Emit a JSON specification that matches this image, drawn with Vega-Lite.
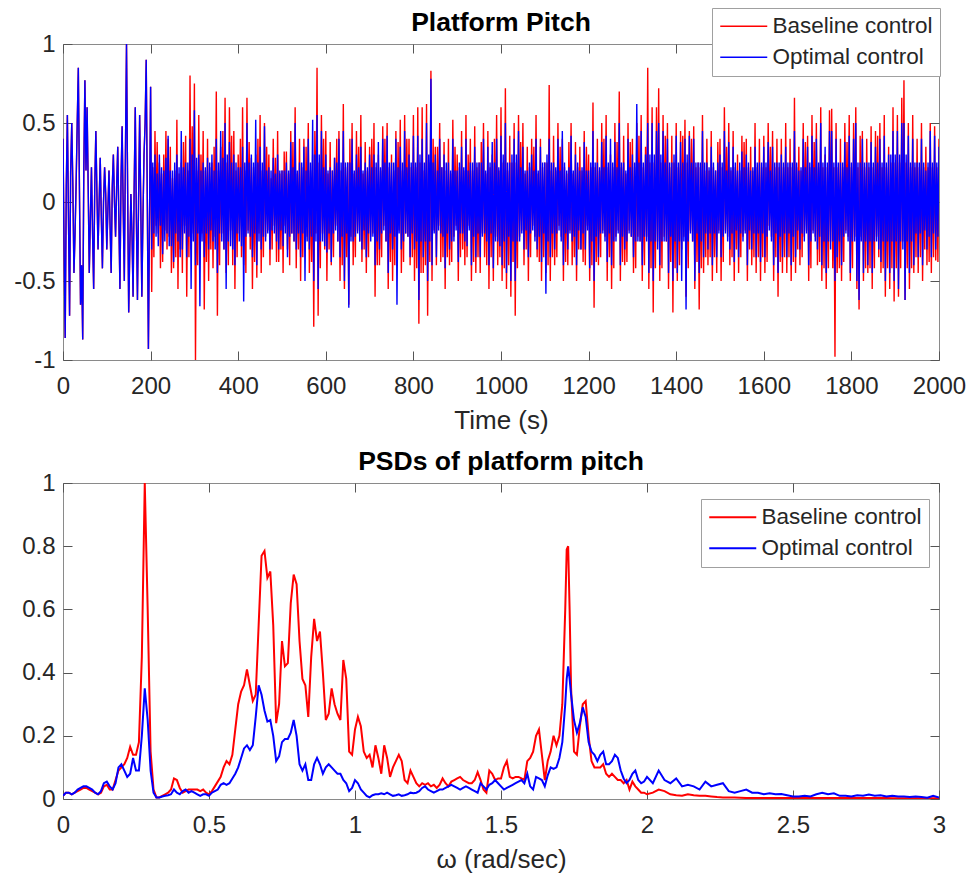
{
"$schema": "https://vega.github.io/schema/vega-lite/v6.json",
"background": "white",
"padding": {"left": 13, "top": 7, "right": 0, "bottom": 0},
"spacing": 14,
"config": {
  "font": "Liberation Sans",
  "view": {"stroke": "#8a8a8a", "strokeWidth": 1},
  "axis": {"grid": false, "domain": false, "tickColor": "#555555", "tickSize": -9, "tickWidth": 1, "labelFontSize": 24, "labelColor": "#262626", "labelPadding": 23, "titleFontSize": 26, "titleFontWeight": "normal", "titleColor": "#262626", "titlePadding": 9, "labelFlush": false, "labelOverlap": false, "labelExpr": "'' + datum.value"},
  "title": {"fontSize": 26.5, "fontWeight": "bold", "color": "#000000", "font": "Liberation Sans", "frame": "group"},
  "legend": {"orient": "none", "direction": "vertical", "title": null, "symbolType": "M-1,0H3.7", "symbolSize": 400, "labelOffset": 31, "rowPadding": 8, "padding": 7, "strokeColor": "#a0a0a0", "fillColor": "white", "labelFontSize": 22.5, "labelColor": "#262626", "labelLimit": 400}
},
"resolve": {"legend": {"color": "independent"}, "scale": {"color": "independent"}},
"vconcat": [
{
  "width": 876, "height": 316,
  "title": {"text": "Platform Pitch", "offset": -29},
  "data": {"values": [
{"t":0,"b":0.4,"o":0.4},{"t":2.5,"b":-0.3,"o":-0.3},{"t":5,"b":-0.86,"o":-0.86},{"t":7.5,"b":0.1,"o":0.1},{"t":10,"b":0.55,"o":0.55},{"t":12.5,"b":-0.1,"o":-0.1},{"t":15,"b":-0.72,"o":-0.72},{"t":17.5,"b":0.2,"o":0.2},{"t":20,"b":0.5,"o":0.5},{"t":22.5,"b":0.1,"o":0.1},
{"t":25,"b":-0.45,"o":-0.45},{"t":27.5,"b":-0.2,"o":-0.2},{"t":30,"b":0.12,"o":0.12},{"t":32.5,"b":0.5,"o":0.5},{"t":35,"b":0.85,"o":0.85},{"t":37.5,"b":0.1,"o":0.1},{"t":40,"b":-0.65,"o":-0.65},{"t":42.5,"b":-0.4,"o":-0.4},{"t":45,"b":-0.87,"o":-0.87},{"t":47.5,"b":0.2,"o":0.2},
{"t":50,"b":0.77,"o":0.77},{"t":52.5,"b":0.2,"o":0.2},{"t":55,"b":0.6,"o":0.6},{"t":57.5,"b":0.1,"o":0.1},{"t":60,"b":-0.45,"o":-0.45},{"t":62.5,"b":-0.1,"o":-0.1},{"t":65,"b":0.22,"o":0.22},{"t":67.5,"b":-0.2,"o":-0.2},{"t":70,"b":-0.55,"o":-0.55},{"t":72.5,"b":0.1,"o":0.1},
{"t":75,"b":0.45,"o":0.45},{"t":77.5,"b":0.05,"o":0.05},{"t":80,"b":-0.3,"o":-0.3},{"t":82.5,"b":0.0,"o":0.0},{"t":85,"b":0.28,"o":0.28},{"t":87.5,"b":-0.1,"o":-0.1},{"t":90,"b":-0.42,"o":-0.42},{"t":92.5,"b":0.0,"o":0.0},{"t":95,"b":0.22,"o":0.22},{"t":97.5,"b":0.05,"o":0.05},
{"t":100,"b":-0.3,"o":-0.3},{"t":102.5,"b":-0.05,"o":-0.05},{"t":105,"b":0.2,"o":0.2},{"t":107.5,"b":-0.15,"o":-0.15},{"t":110,"b":-0.45,"o":-0.45},{"t":112.5,"b":0.1,"o":0.1},{"t":115,"b":0.3,"o":0.3},{"t":117.5,"b":0.0,"o":0.0},{"t":120,"b":-0.22,"o":-0.22},{"t":122.5,"b":0.1,"o":0.1},
{"t":125,"b":0.35,"o":0.35},{"t":127.5,"b":-0.1,"o":-0.1},{"t":130,"b":-0.55,"o":-0.55},{"t":132.5,"b":0.15,"o":0.15},{"t":135,"b":0.48,"o":0.48},{"t":137.5,"b":-0.05,"o":-0.05},{"t":140,"b":-0.5,"o":-0.5},{"t":142.5,"b":0.3,"o":0.3},{"t":145,"b":1.0,"o":1.0},{"t":147.5,"b":0.1,"o":0.1},
{"t":150,"b":-0.7,"o":-0.7},{"t":152.5,"b":-0.3,"o":-0.3},{"t":155,"b":0.05,"o":0.05},{"t":157.5,"b":-0.2,"o":-0.2},{"t":160,"b":-0.6,"o":-0.6},{"t":162.5,"b":0.1,"o":0.1},{"t":165,"b":0.6,"o":0.6},{"t":167.5,"b":-0.1,"o":-0.1},{"t":170,"b":-0.62,"o":-0.62},{"t":172.5,"b":0.0,"o":0.0},
{"t":175,"b":0.55,"o":0.55},{"t":177.5,"b":0.0,"o":0.0},{"t":180,"b":-0.6,"o":-0.6},{"t":182.5,"b":-0.1,"o":-0.1},{"t":185,"b":0.3,"o":0.3},{"t":187.5,"b":0.5,"o":0.5},{"t":190,"b":0.9,"o":0.9},{"t":192.5,"b":0.0,"o":0.0},{"t":195,"b":-0.93,"o":-0.93},{"t":197.5,"b":-0.1,"o":-0.1},
{"t":200,"b":0.73,"o":0.73},
{"t":202.5,"b":-0.57,"o":-0.3},{"t":205,"b":0.22,"o":0.25},{"t":207.5,"b":-0.35,"o":-0.2},{"t":210,"b":0.45,"o":0.3},{"t":212.5,"b":-0.15,"o":-0.22},{"t":215,"b":0.38,"o":0.18},{"t":217.5,"b":-0.2,"o":-0.28},{"t":220,"b":0.25,"o":0.3},{"t":222.5,"b":-0.42,"o":-0.15},{"t":225,"b":0.18,"o":0.22},
{"t":227.5,"b":-0.38,"o":-0.33},{"t":230,"b":0.3,"o":0.2},{"t":232.5,"b":-0.18,"o":-0.25},{"t":235,"b":0.45,"o":0.28},{"t":237.5,"b":-0.3,"o":-0.2},{"t":240,"b":0.4,"o":0.42},{"t":242.5,"b":-0.22,"o":-0.28},{"t":245,"b":0.35,"o":0.2},{"t":247.5,"b":-0.45,"o":-0.28},{"t":250,"b":0.15,"o":0.2},
{"t":252.5,"b":-0.42,"o":-0.38},{"t":255,"b":0.2,"o":0.25},{"t":257.5,"b":-0.35,"o":-0.2},{"t":260,"b":0.52,"o":0.3},{"t":262.5,"b":-0.55,"o":-0.25},{"t":265,"b":0.18,"o":0.22},{"t":267.5,"b":-0.3,"o":-0.35},{"t":270,"b":0.25,"o":0.45},{"t":272.5,"b":-0.45,"o":-0.3},{"t":275,"b":0.38,"o":0.22},
{"t":277.5,"b":-0.15,"o":-0.2},{"t":280,"b":0.42,"o":0.25},{"t":282.5,"b":-0.6,"o":-0.35},{"t":285,"b":0.2,"o":0.25},{"t":287.5,"b":-0.35,"o":-0.22},{"t":290,"b":0.8,"o":0.4},{"t":292.5,"b":-0.3,"o":-0.55},{"t":295,"b":0.48,"o":0.3},{"t":297.5,"b":-0.2,"o":-0.25},{"t":300,"b":0.75,"o":0.58},
{"t":302.5,"b":-1.0,"o":-0.4},{"t":305,"b":0.2,"o":0.28},{"t":307.5,"b":-0.4,"o":-0.2},{"t":310,"b":0.55,"o":0.3},{"t":312.5,"b":-0.35,"o":-0.66},{"t":315,"b":0.3,"o":0.2},{"t":317.5,"b":-0.2,"o":-0.25},{"t":320,"b":0.45,"o":0.25},{"t":322.5,"b":-0.68,"o":-0.35},{"t":325,"b":0.2,"o":0.22},
{"t":327.5,"b":-0.38,"o":-0.2},{"t":330,"b":0.4,"o":0.28},{"t":332.5,"b":-0.5,"o":-0.3},{"t":335,"b":0.22,"o":0.25},{"t":337.5,"b":-0.3,"o":-0.18},{"t":340,"b":0.25,"o":0.3},{"t":342.5,"b":-0.42,"o":-0.25},{"t":345,"b":0.35,"o":0.2},{"t":347.5,"b":-0.22,"o":-0.3},{"t":350,"b":0.7,"o":0.4},
{"t":352.5,"b":-0.72,"o":-0.45},{"t":355,"b":0.2,"o":0.25},{"t":357.5,"b":-0.4,"o":-0.2},{"t":360,"b":0.35,"o":0.45},{"t":362.5,"b":-0.2,"o":-0.25},{"t":365,"b":0.45,"o":0.28},{"t":367.5,"b":-0.3,"o":-0.3},{"t":370,"b":0.66,"o":0.5},{"t":372.5,"b":-0.45,"o":-0.55},{"t":375,"b":0.25,"o":0.3},
{"t":377.5,"b":-0.4,"o":-0.25},{"t":380,"b":0.6,"o":0.38},{"t":382.5,"b":-0.18,"o":-0.28},{"t":385,"b":0.42,"o":0.25},{"t":387.5,"b":-0.4,"o":-0.3},{"t":390,"b":0.45,"o":0.3},{"t":392.5,"b":-0.55,"o":-0.4},{"t":395,"b":0.2,"o":0.25},{"t":397.5,"b":-0.35,"o":-0.2},{"t":400,"b":0.3,"o":0.22},
{"t":402.5,"b":-0.2,"o":-0.25},{"t":405,"b":0.4,"o":0.22},{"t":407.5,"b":-0.35,"o":-0.28},{"t":410,"b":0.6,"o":0.35},{"t":412.5,"b":-0.4,"o":-0.63},{"t":415,"b":0.2,"o":0.25},{"t":417.5,"b":-0.45,"o":-0.22},{"t":420,"b":0.66,"o":0.5},{"t":422.5,"b":-0.18,"o":-0.2},{"t":425,"b":0.38,"o":0.25},
{"t":427.5,"b":-0.3,"o":-0.22},{"t":430,"b":0.28,"o":0.3},{"t":432.5,"b":-0.55,"o":-0.35},{"t":435,"b":0.22,"o":0.25},{"t":437.5,"b":-0.38,"o":-0.2},{"t":440,"b":0.3,"o":0.52},{"t":442.5,"b":-0.48,"o":-0.4},{"t":445,"b":0.4,"o":0.25},{"t":447.5,"b":-0.2,"o":-0.25},{"t":450,"b":0.55,"o":0.35},
{"t":452.5,"b":-0.45,"o":-0.3},{"t":455,"b":0.2,"o":0.25},{"t":457.5,"b":-0.35,"o":-0.22},{"t":460,"b":0.5,"o":0.48},{"t":462.5,"b":-0.22,"o":-0.25},{"t":465,"b":0.35,"o":0.2},{"t":467.5,"b":-0.18,"o":-0.2},{"t":470,"b":0.3,"o":0.22},{"t":472.5,"b":-0.4,"o":-0.3},{"t":475,"b":0.15,"o":0.2},
{"t":477.5,"b":-0.3,"o":-0.18},{"t":480,"b":0.4,"o":0.28},{"t":482.5,"b":-0.15,"o":-0.2},{"t":485,"b":0.28,"o":0.18},{"t":487.5,"b":-0.38,"o":-0.25},{"t":490,"b":0.45,"o":0.3},{"t":492.5,"b":-0.38,"o":-0.3},{"t":495,"b":0.18,"o":0.2},{"t":497.5,"b":-0.3,"o":-0.18},{"t":500,"b":0.2,"o":0.2},
{"t":502.5,"b":-0.45,"o":-0.28},{"t":505,"b":0.32,"o":0.2},{"t":507.5,"b":-0.15,"o":-0.2},{"t":510,"b":0.32,"o":0.25},{"t":512.5,"b":-0.3,"o":-0.35},{"t":515,"b":0.18,"o":0.2},{"t":517.5,"b":-0.4,"o":-0.22},{"t":520,"b":0.45,"o":0.38},{"t":522.5,"b":-0.2,"o":-0.2},{"t":525,"b":0.38,"o":0.22},
{"t":527.5,"b":-0.25,"o":-0.25},{"t":530,"b":0.6,"o":0.5},{"t":532.5,"b":-0.42,"o":-0.3},{"t":535,"b":0.18,"o":0.2},{"t":537.5,"b":-0.3,"o":-0.2},{"t":540,"b":0.4,"o":0.25},{"t":542.5,"b":-0.5,"o":-0.35},{"t":545,"b":0.22,"o":0.25},{"t":547.5,"b":-0.35,"o":-0.2},{"t":550,"b":0.4,"o":0.35},
{"t":552.5,"b":-0.3,"o":-0.5},{"t":555,"b":0.35,"o":0.2},{"t":557.5,"b":-0.22,"o":-0.25},{"t":560,"b":0.5,"o":0.4},{"t":562.5,"b":-0.45,"o":-0.3},{"t":565,"b":0.2,"o":0.25},{"t":567.5,"b":-0.38,"o":-0.22},{"t":570,"b":0.3,"o":0.52},{"t":572.5,"b":-0.79,"o":-0.5},{"t":575,"b":0.45,"o":0.3},
{"t":577.5,"b":-0.2,"o":-0.25},{"t":580,"b":0.85,"o":0.55},{"t":582.5,"b":-0.72,"o":-0.55},{"t":585,"b":0.25,"o":0.3},{"t":587.5,"b":-0.42,"o":-0.25},{"t":590,"b":0.55,"o":0.45},{"t":592.5,"b":-0.2,"o":-0.25},{"t":595,"b":0.4,"o":0.22},{"t":597.5,"b":-0.3,"o":-0.28},{"t":600,"b":0.45,"o":0.3},
{"t":602.5,"b":-0.5,"o":-0.32},{"t":605,"b":0.18,"o":0.2},{"t":607.5,"b":-0.3,"o":-0.2},{"t":610,"b":0.38,"o":0.22},{"t":612.5,"b":-0.4,"o":-0.38},{"t":615,"b":0.2,"o":0.2},{"t":617.5,"b":-0.35,"o":-0.2},{"t":620,"b":0.28,"o":0.28},{"t":622.5,"b":-0.15,"o":-0.18},{"t":625,"b":0.4,"o":0.25},
{"t":627.5,"b":-0.25,"o":-0.25},{"t":630,"b":0.45,"o":0.4},{"t":632.5,"b":-0.5,"o":-0.35},{"t":635,"b":0.2,"o":0.25},{"t":637.5,"b":-0.4,"o":-0.22},{"t":640,"b":0.62,"o":0.45},{"t":642.5,"b":-0.55,"o":-0.5},{"t":645,"b":0.22,"o":0.25},{"t":647.5,"b":-0.35,"o":-0.2},{"t":650,"b":0.25,"o":0.25},
{"t":652.5,"b":-0.65,"o":-0.67},{"t":655,"b":0.4,"o":0.25},{"t":657.5,"b":-0.22,"o":-0.25},{"t":660,"b":0.5,"o":0.4},{"t":662.5,"b":-0.4,"o":-0.25},{"t":665,"b":0.18,"o":0.2},{"t":667.5,"b":-0.35,"o":-0.22},{"t":670,"b":0.45,"o":0.3},{"t":672.5,"b":-0.18,"o":-0.2},{"t":675,"b":0.35,"o":0.22},
{"t":677.5,"b":-0.25,"o":-0.25},{"t":680,"b":0.55,"o":0.35},{"t":682.5,"b":-0.38,"o":-0.3},{"t":685,"b":0.18,"o":0.2},{"t":687.5,"b":-0.3,"o":-0.18},{"t":690,"b":0.38,"o":0.25},{"t":692.5,"b":-0.45,"o":-0.35},{"t":695,"b":0.2,"o":0.22},{"t":697.5,"b":-0.35,"o":-0.2},{"t":700,"b":0.35,"o":0.3},
{"t":702.5,"b":-0.22,"o":-0.25},{"t":705,"b":0.4,"o":0.22},{"t":707.5,"b":-0.2,"o":-0.22},{"t":710,"b":0.5,"o":0.3},{"t":712.5,"b":-0.6,"o":-0.4},{"t":715,"b":0.22,"o":0.25},{"t":717.5,"b":-0.4,"o":-0.25},{"t":720,"b":0.3,"o":0.38},{"t":722.5,"b":-0.4,"o":-0.3},{"t":725,"b":0.2,"o":0.22},
{"t":727.5,"b":-0.35,"o":-0.2},{"t":730,"b":0.48,"o":0.4},{"t":732.5,"b":-0.15,"o":-0.18},{"t":735,"b":0.4,"o":0.25},{"t":737.5,"b":-0.25,"o":-0.25},{"t":740,"b":0.5,"o":0.42},{"t":742.5,"b":-0.55,"o":-0.45},{"t":745,"b":0.22,"o":0.25},{"t":747.5,"b":-0.38,"o":-0.2},{"t":750,"b":0.3,"o":0.25},
{"t":752.5,"b":-0.5,"o":-0.3},{"t":755,"b":0.2,"o":0.25},{"t":757.5,"b":-0.4,"o":-0.22},{"t":760,"b":0.45,"o":0.4},{"t":762.5,"b":-0.3,"o":-0.65},{"t":765,"b":0.38,"o":0.22},{"t":767.5,"b":-0.18,"o":-0.2},{"t":770,"b":0.52,"o":0.35},{"t":772.5,"b":-0.45,"o":-0.3},{"t":775,"b":0.2,"o":0.25},
{"t":777.5,"b":-0.38,"o":-0.25},{"t":780,"b":0.55,"o":0.45},{"t":782.5,"b":-0.2,"o":-0.2},{"t":785,"b":0.4,"o":0.22},{"t":787.5,"b":-0.22,"o":-0.22},{"t":790,"b":0.4,"o":0.3},{"t":792.5,"b":-0.4,"o":-0.35},{"t":795,"b":0.22,"o":0.25},{"t":797.5,"b":-0.35,"o":-0.2},{"t":800,"b":0.55,"o":0.42},
{"t":802.5,"b":-0.5,"o":-0.3},{"t":805,"b":0.22,"o":0.25},{"t":807.5,"b":-0.42,"o":-0.25},{"t":810,"b":0.6,"o":0.42},{"t":812.5,"b":-0.77,"o":-0.62},{"t":815,"b":0.25,"o":0.3},{"t":817.5,"b":-0.45,"o":-0.25},{"t":820,"b":0.6,"o":0.4},{"t":822.5,"b":-0.45,"o":-0.35},{"t":825,"b":0.2,"o":0.25},
{"t":827.5,"b":-0.4,"o":-0.25},{"t":830,"b":0.62,"o":0.5},{"t":832.5,"b":-0.72,"o":-0.5},{"t":835,"b":0.25,"o":0.3},{"t":837.5,"b":-0.38,"o":-0.25},{"t":840,"b":0.83,"o":0.78},{"t":842.5,"b":-0.5,"o":-0.4},{"t":845,"b":0.4,"o":0.25},{"t":847.5,"b":-0.18,"o":-0.2},{"t":850,"b":0.35,"o":0.3},
{"t":852.5,"b":-0.4,"o":-0.35},{"t":855,"b":0.35,"o":0.2},{"t":857.5,"b":-0.15,"o":-0.18},{"t":860,"b":0.5,"o":0.4},{"t":862.5,"b":-0.38,"o":-0.2},{"t":865,"b":0.22,"o":0.22},{"t":867.5,"b":-0.35,"o":-0.22},{"t":870,"b":0.38,"o":0.3},{"t":872.5,"b":-0.55,"o":-0.42},{"t":875,"b":0.2,"o":0.25},
{"t":877.5,"b":-0.35,"o":-0.2},{"t":880,"b":0.4,"o":0.25},{"t":882.5,"b":-0.4,"o":-0.3},{"t":885,"b":0.18,"o":0.2},{"t":887.5,"b":-0.38,"o":-0.25},{"t":890,"b":0.52,"o":0.4},{"t":892.5,"b":-0.22,"o":-0.25},{"t":895,"b":0.35,"o":0.2},{"t":897.5,"b":-0.15,"o":-0.18},{"t":900,"b":0.3,"o":0.2},
{"t":902.5,"b":-0.5,"o":-0.38},{"t":905,"b":0.22,"o":0.25},{"t":907.5,"b":-0.35,"o":-0.2},{"t":910,"b":0.45,"o":0.35},{"t":912.5,"b":-0.3,"o":-0.2},{"t":915,"b":0.2,"o":0.22},{"t":917.5,"b":-0.4,"o":-0.25},{"t":920,"b":0.55,"o":0.4},{"t":922.5,"b":-0.35,"o":-0.28},{"t":925,"b":0.3,"o":0.2},
{"t":927.5,"b":-0.15,"o":-0.18},{"t":930,"b":0.4,"o":0.25},{"t":932.5,"b":-0.5,"o":-0.4},{"t":935,"b":0.2,"o":0.25},{"t":937.5,"b":-0.38,"o":-0.22},{"t":940,"b":0.48,"o":0.35},{"t":942.5,"b":-0.45,"o":-0.35},{"t":945,"b":0.22,"o":0.25},{"t":947.5,"b":-0.35,"o":-0.2},{"t":950,"b":0.25,"o":0.25},
{"t":952.5,"b":-0.45,"o":-0.35},{"t":955,"b":0.38,"o":0.25},{"t":957.5,"b":-0.2,"o":-0.22},{"t":960,"b":0.5,"o":0.4},{"t":962.5,"b":-0.35,"o":-0.2},{"t":965,"b":0.18,"o":0.2},{"t":967.5,"b":-0.4,"o":-0.25},{"t":970,"b":0.45,"o":0.35},{"t":972.5,"b":-0.55,"o":-0.4},{"t":975,"b":0.22,"o":0.25},
{"t":977.5,"b":-0.35,"o":-0.2},{"t":980,"b":0.3,"o":0.38},{"t":982.5,"b":-0.5,"o":-0.42},{"t":985,"b":0.4,"o":0.25},{"t":987.5,"b":-0.22,"o":-0.25},{"t":990,"b":0.55,"o":0.4},{"t":992.5,"b":-0.4,"o":-0.25},{"t":995,"b":0.2,"o":0.22},{"t":997.5,"b":-0.35,"o":-0.28},{"t":1000,"b":0.6,"o":0.42},
{"t":1002.5,"b":-0.5,"o":-0.4},{"t":1005,"b":0.25,"o":0.3},{"t":1007.5,"b":-0.42,"o":-0.25},{"t":1010,"b":0.72,"o":0.5},{"t":1012.5,"b":-0.55,"o":-0.45},{"t":1015,"b":0.2,"o":0.25},{"t":1017.5,"b":-0.4,"o":-0.22},{"t":1020,"b":0.42,"o":0.25},{"t":1022.5,"b":-0.6,"o":-0.5},{"t":1025,"b":0.25,"o":0.3},
{"t":1027.5,"b":-0.38,"o":-0.25},{"t":1030,"b":0.5,"o":0.4},{"t":1032.5,"b":-0.72,"o":-0.5},{"t":1035,"b":0.25,"o":0.3},{"t":1037.5,"b":-0.42,"o":-0.25},{"t":1040,"b":0.55,"o":0.45},{"t":1042.5,"b":-0.22,"o":-0.25},{"t":1045,"b":0.38,"o":0.22},{"t":1047.5,"b":-0.18,"o":-0.2},{"t":1050,"b":0.5,"o":0.35},
{"t":1052.5,"b":-0.4,"o":-0.3},{"t":1055,"b":0.18,"o":0.2},{"t":1057.5,"b":-0.3,"o":-0.18},{"t":1060,"b":0.35,"o":0.2},{"t":1062.5,"b":-0.5,"o":-0.35},{"t":1065,"b":0.22,"o":0.25},{"t":1067.5,"b":-0.35,"o":-0.2},{"t":1070,"b":0.4,"o":0.3},{"t":1072.5,"b":-0.15,"o":-0.18},{"t":1075,"b":0.35,"o":0.2},
{"t":1077.5,"b":-0.22,"o":-0.25},{"t":1080,"b":0.55,"o":0.4},{"t":1082.5,"b":-0.35,"o":-0.3},{"t":1085,"b":0.18,"o":0.2},{"t":1087.5,"b":-0.38,"o":-0.22},{"t":1090,"b":0.4,"o":0.35},{"t":1092.5,"b":-0.5,"o":-0.38},{"t":1095,"b":0.22,"o":0.25},{"t":1097.5,"b":-0.35,"o":-0.2},{"t":1100,"b":0.25,"o":0.25},
{"t":1102.5,"b":-0.45,"o":-0.58},{"t":1105,"b":0.25,"o":0.3},{"t":1107.5,"b":-0.4,"o":-0.25},{"t":1110,"b":0.74,"o":0.4},{"t":1112.5,"b":-0.5,"o":-0.35},{"t":1115,"b":0.2,"o":0.25},{"t":1117.5,"b":-0.35,"o":-0.2},{"t":1120,"b":0.42,"o":0.25},{"t":1122.5,"b":-0.4,"o":-0.3},{"t":1125,"b":0.2,"o":0.22},
{"t":1127.5,"b":-0.35,"o":-0.2},{"t":1130,"b":0.5,"o":0.4},{"t":1132.5,"b":-0.15,"o":-0.18},{"t":1135,"b":0.35,"o":0.2},{"t":1137.5,"b":-0.22,"o":-0.25},{"t":1140,"b":0.4,"o":0.45},{"t":1142.5,"b":-0.5,"o":-0.4},{"t":1145,"b":0.22,"o":0.25},{"t":1147.5,"b":-0.38,"o":-0.2},{"t":1150,"b":0.18,"o":0.2},
{"t":1152.5,"b":-0.4,"o":-0.3},{"t":1155,"b":0.38,"o":0.22},{"t":1157.5,"b":-0.18,"o":-0.2},{"t":1160,"b":0.5,"o":0.42},{"t":1162.5,"b":-0.4,"o":-0.25},{"t":1165,"b":0.18,"o":0.2},{"t":1167.5,"b":-0.35,"o":-0.22},{"t":1170,"b":0.38,"o":0.3},{"t":1172.5,"b":-0.5,"o":-0.4},{"t":1175,"b":0.22,"o":0.25},
{"t":1177.5,"b":-0.3,"o":-0.18},{"t":1180,"b":0.35,"o":0.2},{"t":1182.5,"b":-0.3,"o":-0.3},{"t":1185,"b":0.2,"o":0.22},{"t":1187.5,"b":-0.38,"o":-0.2},{"t":1190,"b":0.45,"o":0.38},{"t":1192.5,"b":-0.4,"o":-0.3},{"t":1195,"b":0.35,"o":0.2},{"t":1197.5,"b":-0.15,"o":-0.18},{"t":1200,"b":0.3,"o":0.2},
{"t":1202.5,"b":-0.5,"o":-0.42},{"t":1205,"b":0.22,"o":0.25},{"t":1207.5,"b":-0.4,"o":-0.25},{"t":1210,"b":0.63,"o":0.45},{"t":1212.5,"b":-0.67,"o":-0.5},{"t":1215,"b":0.22,"o":0.25},{"t":1217.5,"b":-0.38,"o":-0.22},{"t":1220,"b":0.4,"o":0.25},{"t":1222.5,"b":-0.4,"o":-0.35},{"t":1225,"b":0.2,"o":0.22},
{"t":1227.5,"b":-0.35,"o":-0.2},{"t":1230,"b":0.5,"o":0.38},{"t":1232.5,"b":-0.18,"o":-0.2},{"t":1235,"b":0.4,"o":0.22},{"t":1237.5,"b":-0.22,"o":-0.25},{"t":1240,"b":0.55,"o":0.42},{"t":1242.5,"b":-0.5,"o":-0.38},{"t":1245,"b":0.22,"o":0.25},{"t":1247.5,"b":-0.35,"o":-0.2},{"t":1250,"b":0.3,"o":0.4},
{"t":1252.5,"b":-0.55,"o":-0.4},{"t":1255,"b":0.22,"o":0.25},{"t":1257.5,"b":-0.42,"o":-0.25},{"t":1260,"b":0.5,"o":0.38},{"t":1262.5,"b":-0.22,"o":-0.25},{"t":1265,"b":0.38,"o":0.22},{"t":1267.5,"b":-0.18,"o":-0.2},{"t":1270,"b":0.7,"o":0.5},{"t":1272.5,"b":-0.5,"o":-0.4},{"t":1275,"b":0.22,"o":0.25},
{"t":1277.5,"b":-0.38,"o":-0.22},{"t":1280,"b":0.42,"o":0.25},{"t":1282.5,"b":-0.4,"o":-0.3},{"t":1285,"b":0.18,"o":0.2},{"t":1287.5,"b":-0.38,"o":-0.25},{"t":1290,"b":0.5,"o":0.4},{"t":1292.5,"b":-0.18,"o":-0.2},{"t":1295,"b":0.38,"o":0.22},{"t":1297.5,"b":-0.22,"o":-0.22},{"t":1300,"b":0.4,"o":0.3},
{"t":1302.5,"b":-0.45,"o":-0.35},{"t":1305,"b":0.22,"o":0.25},{"t":1307.5,"b":-0.42,"o":-0.25},{"t":1310,"b":0.5,"o":0.62},{"t":1312.5,"b":-0.22,"o":-0.25},{"t":1315,"b":0.42,"o":0.25},{"t":1317.5,"b":-0.25,"o":-0.25},{"t":1320,"b":0.55,"o":0.45},{"t":1322.5,"b":-0.5,"o":-0.4},{"t":1325,"b":0.22,"o":0.25},
{"t":1327.5,"b":-0.4,"o":-0.22},{"t":1330,"b":0.35,"o":0.3},{"t":1332.5,"b":-0.22,"o":-0.25},{"t":1335,"b":0.85,"o":0.5},{"t":1337.5,"b":-0.55,"o":-0.45},{"t":1340,"b":0.25,"o":0.3},{"t":1342.5,"b":-0.42,"o":-0.25},{"t":1345,"b":0.6,"o":0.5},{"t":1347.5,"b":-0.7,"o":-0.5},{"t":1350,"b":0.25,"o":0.3},
{"t":1352.5,"b":-0.42,"o":-0.25},{"t":1355,"b":0.6,"o":0.45},{"t":1357.5,"b":-0.25,"o":-0.3},{"t":1360,"b":0.72,"o":0.5},{"t":1362.5,"b":-0.5,"o":-0.4},{"t":1365,"b":0.25,"o":0.3},{"t":1367.5,"b":-0.42,"o":-0.25},{"t":1370,"b":0.55,"o":0.45},{"t":1372.5,"b":-0.22,"o":-0.25},{"t":1375,"b":0.42,"o":0.25},
{"t":1377.5,"b":-0.25,"o":-0.25},{"t":1380,"b":0.5,"o":0.4},{"t":1382.5,"b":-0.55,"o":-0.45},{"t":1385,"b":0.22,"o":0.25},{"t":1387.5,"b":-0.38,"o":-0.22},{"t":1390,"b":0.42,"o":0.25},{"t":1392.5,"b":-0.7,"o":-0.5},{"t":1395,"b":0.25,"o":0.3},{"t":1397.5,"b":-0.42,"o":-0.25},{"t":1400,"b":0.5,"o":0.42},
{"t":1402.5,"b":-0.5,"o":-0.45},{"t":1405,"b":0.22,"o":0.25},{"t":1407.5,"b":-0.4,"o":-0.25},{"t":1410,"b":0.45,"o":0.38},{"t":1412.5,"b":-0.3,"o":-0.5},{"t":1415,"b":0.42,"o":0.25},{"t":1417.5,"b":-0.22,"o":-0.25},{"t":1420,"b":0.52,"o":0.4},{"t":1422.5,"b":-0.6,"o":-0.68},{"t":1425,"b":0.25,"o":0.3},
{"t":1427.5,"b":-0.42,"o":-0.25},{"t":1430,"b":0.45,"o":0.42},{"t":1432.5,"b":-0.18,"o":-0.2},{"t":1435,"b":0.4,"o":0.25},{"t":1437.5,"b":-0.25,"o":-0.25},{"t":1440,"b":0.48,"o":0.4},{"t":1442.5,"b":-0.55,"o":-0.5},{"t":1445,"b":0.22,"o":0.25},{"t":1447.5,"b":-0.38,"o":-0.2},{"t":1450,"b":0.25,"o":0.25},
{"t":1452.5,"b":-0.68,"o":-0.45},{"t":1455,"b":0.22,"o":0.25},{"t":1457.5,"b":-0.42,"o":-0.25},{"t":1460,"b":0.55,"o":0.45},{"t":1462.5,"b":-0.45,"o":-0.35},{"t":1465,"b":0.2,"o":0.25},{"t":1467.5,"b":-0.35,"o":-0.2},{"t":1470,"b":0.4,"o":0.25},{"t":1472.5,"b":-0.4,"o":-0.3},{"t":1475,"b":0.2,"o":0.22},
{"t":1477.5,"b":-0.35,"o":-0.2},{"t":1480,"b":0.45,"o":0.35},{"t":1482.5,"b":-0.5,"o":-0.4},{"t":1485,"b":0.22,"o":0.25},{"t":1487.5,"b":-0.35,"o":-0.2},{"t":1490,"b":0.2,"o":0.2},{"t":1492.5,"b":-0.45,"o":-0.35},{"t":1495,"b":0.38,"o":0.25},{"t":1497.5,"b":-0.18,"o":-0.2},{"t":1500,"b":0.4,"o":0.3},
{"t":1502.5,"b":-0.5,"o":-0.35},{"t":1505,"b":0.22,"o":0.25},{"t":1507.5,"b":-0.38,"o":-0.22},{"t":1510,"b":0.6,"o":0.45},{"t":1512.5,"b":-0.18,"o":-0.2},{"t":1515,"b":0.35,"o":0.2},{"t":1517.5,"b":-0.22,"o":-0.25},{"t":1520,"b":0.5,"o":0.38},{"t":1522.5,"b":-0.4,"o":-0.3},{"t":1525,"b":0.2,"o":0.22},
{"t":1527.5,"b":-0.35,"o":-0.2},{"t":1530,"b":0.45,"o":0.35},{"t":1532.5,"b":-0.5,"o":-0.38},{"t":1535,"b":0.22,"o":0.25},{"t":1537.5,"b":-0.3,"o":-0.18},{"t":1540,"b":0.3,"o":0.2},{"t":1542.5,"b":-0.45,"o":-0.35},{"t":1545,"b":0.2,"o":0.25},{"t":1547.5,"b":-0.35,"o":-0.2},{"t":1550,"b":0.42,"o":0.32},
{"t":1552.5,"b":-0.22,"o":-0.25},{"t":1555,"b":0.38,"o":0.22},{"t":1557.5,"b":-0.18,"o":-0.2},{"t":1560,"b":0.4,"o":0.3},{"t":1562.5,"b":-0.5,"o":-0.4},{"t":1565,"b":0.22,"o":0.25},{"t":1567.5,"b":-0.3,"o":-0.18},{"t":1570,"b":0.35,"o":0.2},{"t":1572.5,"b":-0.4,"o":-0.3},{"t":1575,"b":0.2,"o":0.22},
{"t":1577.5,"b":-0.35,"o":-0.2},{"t":1580,"b":0.5,"o":0.35},{"t":1582.5,"b":-0.45,"o":-0.35},{"t":1585,"b":0.22,"o":0.25},{"t":1587.5,"b":-0.35,"o":-0.2},{"t":1590,"b":0.4,"o":0.25},{"t":1592.5,"b":-0.5,"o":-0.38},{"t":1595,"b":0.22,"o":0.25},{"t":1597.5,"b":-0.35,"o":-0.2},{"t":1600,"b":0.42,"o":0.35},
{"t":1602.5,"b":-0.45,"o":-0.35},{"t":1605,"b":0.22,"o":0.25},{"t":1607.5,"b":-0.38,"o":-0.22},{"t":1610,"b":0.5,"o":0.38},{"t":1612.5,"b":-0.15,"o":-0.18},{"t":1615,"b":0.35,"o":0.2},{"t":1617.5,"b":-0.22,"o":-0.25},{"t":1620,"b":0.45,"o":0.35},{"t":1622.5,"b":-0.5,"o":-0.4},{"t":1625,"b":0.22,"o":0.25},
{"t":1627.5,"b":-0.35,"o":-0.2},{"t":1630,"b":0.4,"o":0.25},{"t":1632.5,"b":-0.6,"o":-0.45},{"t":1635,"b":0.22,"o":0.25},{"t":1637.5,"b":-0.38,"o":-0.22},{"t":1640,"b":0.4,"o":0.3},{"t":1642.5,"b":-0.45,"o":-0.35},{"t":1645,"b":0.22,"o":0.25},{"t":1647.5,"b":-0.35,"o":-0.2},{"t":1650,"b":0.5,"o":0.35},
{"t":1652.5,"b":-0.45,"o":-0.35},{"t":1655,"b":0.22,"o":0.25},{"t":1657.5,"b":-0.35,"o":-0.2},{"t":1660,"b":0.4,"o":0.25},{"t":1662.5,"b":-0.5,"o":-0.4},{"t":1665,"b":0.22,"o":0.25},{"t":1667.5,"b":-0.38,"o":-0.22},{"t":1670,"b":0.66,"o":0.45},{"t":1672.5,"b":-0.45,"o":-0.35},{"t":1675,"b":0.22,"o":0.25},
{"t":1677.5,"b":-0.3,"o":-0.18},{"t":1680,"b":0.35,"o":0.2},{"t":1682.5,"b":-0.4,"o":-0.3},{"t":1685,"b":0.2,"o":0.22},{"t":1687.5,"b":-0.35,"o":-0.2},{"t":1690,"b":0.5,"o":0.4},{"t":1692.5,"b":-0.22,"o":-0.25},{"t":1695,"b":0.38,"o":0.22},{"t":1697.5,"b":-0.18,"o":-0.2},{"t":1700,"b":0.42,"o":0.35},
{"t":1702.5,"b":-0.5,"o":-0.4},{"t":1705,"b":0.22,"o":0.25},{"t":1707.5,"b":-0.42,"o":-0.25},{"t":1710,"b":0.55,"o":0.42},{"t":1712.5,"b":-0.18,"o":-0.2},{"t":1715,"b":0.38,"o":0.22},{"t":1717.5,"b":-0.22,"o":-0.25},{"t":1720,"b":0.5,"o":0.4},{"t":1722.5,"b":-0.4,"o":-0.3},{"t":1725,"b":0.22,"o":0.25},
{"t":1727.5,"b":-0.38,"o":-0.22},{"t":1730,"b":0.6,"o":0.5},{"t":1732.5,"b":-0.5,"o":-0.4},{"t":1735,"b":0.22,"o":0.25},{"t":1737.5,"b":-0.42,"o":-0.25},{"t":1740,"b":0.3,"o":0.35},{"t":1742.5,"b":-0.55,"o":-0.45},{"t":1745,"b":0.22,"o":0.25},{"t":1747.5,"b":-0.42,"o":-0.25},{"t":1750,"b":0.58,"o":0.45},
{"t":1752.5,"b":-0.25,"o":-0.3},{"t":1755,"b":0.59,"o":0.45},{"t":1757.5,"b":-0.42,"o":-0.25},{"t":1760,"b":0.22,"o":0.25},{"t":1762.5,"b":-0.98,"o":-0.5},{"t":1765,"b":0.5,"o":0.4},{"t":1767.5,"b":-0.45,"o":-0.35},{"t":1770,"b":0.22,"o":0.25},{"t":1772.5,"b":-0.42,"o":-0.25},{"t":1775,"b":0.4,"o":0.25},
{"t":1777.5,"b":-0.5,"o":-0.4},{"t":1780,"b":0.22,"o":0.25},{"t":1782.5,"b":-0.38,"o":-0.22},{"t":1785,"b":0.5,"o":0.38},{"t":1787.5,"b":-0.18,"o":-0.2},{"t":1790,"b":0.38,"o":0.22},{"t":1792.5,"b":-0.22,"o":-0.25},{"t":1795,"b":0.55,"o":0.42},{"t":1797.5,"b":-0.5,"o":-0.45},{"t":1800,"b":0.22,"o":0.25},
{"t":1802.5,"b":-0.42,"o":-0.25},{"t":1805,"b":0.5,"o":0.4},{"t":1807.5,"b":-0.22,"o":-0.25},{"t":1810,"b":0.6,"o":0.5},{"t":1812.5,"b":-0.55,"o":-0.5},{"t":1815,"b":0.22,"o":0.25},{"t":1817.5,"b":-0.68,"o":-0.62},{"t":1820,"b":0.42,"o":0.25},{"t":1822.5,"b":-0.22,"o":-0.25},{"t":1825,"b":0.45,"o":0.4},
{"t":1827.5,"b":-0.5,"o":-0.45},{"t":1830,"b":0.22,"o":0.25},{"t":1832.5,"b":-0.42,"o":-0.25},{"t":1835,"b":0.4,"o":0.25},{"t":1837.5,"b":-0.45,"o":-0.4},{"t":1840,"b":0.22,"o":0.25},{"t":1842.5,"b":-0.42,"o":-0.25},{"t":1845,"b":0.48,"o":0.38},{"t":1847.5,"b":-0.55,"o":-0.45},{"t":1850,"b":0.22,"o":0.25},
{"t":1852.5,"b":-0.42,"o":-0.25},{"t":1855,"b":0.45,"o":0.35},{"t":1857.5,"b":-0.22,"o":-0.25},{"t":1860,"b":0.42,"o":0.25},{"t":1862.5,"b":-0.35,"o":-0.3},{"t":1865,"b":0.5,"o":0.4},{"t":1867.5,"b":-0.45,"o":-0.38},{"t":1870,"b":0.22,"o":0.25},{"t":1872.5,"b":-0.42,"o":-0.25},{"t":1875,"b":0.55,"o":0.42},
{"t":1877.5,"b":-0.6,"o":-0.5},{"t":1880,"b":0.22,"o":0.25},{"t":1882.5,"b":-0.42,"o":-0.25},{"t":1885,"b":0.35,"o":0.3},{"t":1887.5,"b":-0.55,"o":-0.45},{"t":1890,"b":0.25,"o":0.3},{"t":1892.5,"b":-0.42,"o":-0.25},{"t":1895,"b":0.6,"o":0.45},{"t":1897.5,"b":-0.63,"o":-0.5},{"t":1900,"b":0.25,"o":0.3},
{"t":1902.5,"b":-0.42,"o":-0.25},{"t":1905,"b":0.55,"o":0.45},{"t":1907.5,"b":-0.6,"o":-0.55},{"t":1910,"b":0.25,"o":0.3},{"t":1912.5,"b":-0.42,"o":-0.25},{"t":1915,"b":0.66,"o":0.5},{"t":1917.5,"b":-0.25,"o":-0.3},{"t":1920,"b":0.77,"o":0.5},{"t":1922.5,"b":-0.62,"o":-0.62},{"t":1925,"b":0.25,"o":0.3},
{"t":1927.5,"b":-0.42,"o":-0.25},{"t":1930,"b":0.5,"o":0.42},{"t":1932.5,"b":-0.55,"o":-0.45},{"t":1935,"b":0.22,"o":0.25},{"t":1937.5,"b":-0.42,"o":-0.25},{"t":1940,"b":0.55,"o":0.4},{"t":1942.5,"b":-0.45,"o":-0.4},{"t":1945,"b":0.22,"o":0.25},{"t":1947.5,"b":-0.35,"o":-0.2},{"t":1950,"b":0.4,"o":0.25},
{"t":1952.5,"b":-0.45,"o":-0.35},{"t":1955,"b":0.22,"o":0.25},{"t":1957.5,"b":-0.35,"o":-0.2},{"t":1960,"b":0.5,"o":0.4},{"t":1962.5,"b":-0.5,"o":-0.4},{"t":1965,"b":0.22,"o":0.25},{"t":1967.5,"b":-0.3,"o":-0.18},{"t":1970,"b":0.35,"o":0.2},{"t":1972.5,"b":-0.4,"o":-0.3},{"t":1975,"b":0.22,"o":0.25},
{"t":1977.5,"b":-0.38,"o":-0.22},{"t":1980,"b":0.5,"o":0.45},{"t":1982.5,"b":-0.45,"o":-0.35},{"t":1985,"b":0.22,"o":0.25},{"t":1987.5,"b":-0.35,"o":-0.2},{"t":1990,"b":0.48,"o":0.42},{"t":1992.5,"b":-0.37,"o":-0.3},{"t":1995,"b":0.22,"o":0.25},{"t":1997.5,"b":-0.38,"o":-0.22},{"t":2000,"b":0.4,"o":0.35}
  ]},
  "layer": [
    {
      "transform": [{"fold": ["b", "o"], "as": ["s", "v"]}],
      "mark": {"type": "line", "strokeWidth": 1.4, "clip": true},
      "encoding": {
        "x": {"field": "t", "type": "quantitative", "scale": {"domain": [0, 2000], "nice": false}, "axis": {"values": [0,200,400,600,800,1000,1200,1400,1600,1800,2000], "title": "Time (s)"}},
        "y": {"field": "v", "type": "quantitative", "scale": {"domain": [-1, 1], "nice": false}, "axis": {"values": [-1,-0.5,0,0.5,1], "title": null, "labelPadding": 17}},
        "color": {"field": "s", "type": "nominal", "scale": {"domain": ["b", "o"], "range": ["#ff0000", "#0000ff"]},
          "legend": {"legendX": 649, "legendY": -36, "symbolStrokeWidth": 1.5, "labelExpr": "datum.label == 'b' ? 'Baseline control' : 'Optimal control'"}}
      }
    },
    {
      "mark": {"type": "point", "opacity": 0, "size": 0},
      "encoding": {
        "x": {"field": "t", "type": "quantitative", "scale": {"domain": [0, 2000], "nice": false}, "axis": {"orient": "top", "labels": false, "title": null, "values": [0,200,400,600,800,1000,1200,1400,1600,1800,2000]}},
        "y": {"field": "b", "type": "quantitative", "scale": {"domain": [-1, 1], "nice": false}, "axis": {"orient": "right", "labels": false, "title": null, "values": [-1,-0.5,0,0.5,1]}}
      }
    }
  ],
  "resolve": {"axis": {"x": "independent", "y": "independent"}}
},
{
  "width": 876, "height": 316,
  "title": {"text": "PSDs of platform pitch", "offset": -4.5},
  "data": {"values": [
{"w":0,"b":0.01,"o":0.01},{"w":0.01,"b":0.02,"o":0.02},{"w":0.02,"b":0.02,"o":0.02},{"w":0.03,"b":0.015,"o":0.015},{"w":0.04,"b":0.02,"o":0.02},{"w":0.05,"b":0.025,"o":0.03},{"w":0.06,"b":0.03,"o":0.035},{"w":0.07,"b":0.035,"o":0.04},{"w":0.08,"b":0.035,"o":0.04},{"w":0.09,"b":0.03,"o":0.035},
{"w":0.1,"b":0.025,"o":0.03},{"w":0.11,"b":0.02,"o":0.02},{"w":0.12,"b":0.015,"o":0.015},{"w":0.13,"b":0.02,"o":0.025},{"w":0.14,"b":0.04,"o":0.05},{"w":0.15,"b":0.045,"o":0.055},{"w":0.16,"b":0.03,"o":0.04},{"w":0.17,"b":0.03,"o":0.03},{"w":0.18,"b":0.06,"o":0.05},{"w":0.19,"b":0.09,"o":0.1},
{"w":0.2,"b":0.1,"o":0.11},{"w":0.21,"b":0.11,"o":0.09},{"w":0.22,"b":0.13,"o":0.07},{"w":0.23,"b":0.165,"o":0.08},{"w":0.24,"b":0.14,"o":0.13},{"w":0.25,"b":0.14,"o":0.09},{"w":0.26,"b":0.18,"o":0.09},{"w":0.27,"b":0.45,"o":0.2},{"w":0.28,"b":1.0,"o":0.35},{"w":0.29,"b":0.6,"o":0.25},
{"w":0.3,"b":0.15,"o":0.09},{"w":0.31,"b":0.03,"o":0.02},{"w":0.32,"b":0.005,"o":0.005},{"w":0.33,"b":0.005,"o":0.005},{"w":0.34,"b":0.01,"o":0.008},{"w":0.35,"b":0.015,"o":0.01},{"w":0.36,"b":0.02,"o":0.012},{"w":0.37,"b":0.03,"o":0.015},{"w":0.38,"b":0.065,"o":0.03},{"w":0.39,"b":0.06,"o":0.02},
{"w":0.4,"b":0.035,"o":0.015},{"w":0.41,"b":0.02,"o":0.025},{"w":0.42,"b":0.025,"o":0.03},{"w":0.43,"b":0.03,"o":0.02},{"w":0.44,"b":0.03,"o":0.025},{"w":0.45,"b":0.03,"o":0.02},{"w":0.46,"b":0.03,"o":0.015},{"w":0.47,"b":0.025,"o":0.01},{"w":0.48,"b":0.03,"o":0.015},{"w":0.49,"b":0.02,"o":0.015},
{"w":0.5,"b":0.015,"o":0.01},{"w":0.51,"b":0.025,"o":0.02},{"w":0.52,"b":0.04,"o":0.025},{"w":0.53,"b":0.055,"o":0.03},{"w":0.54,"b":0.07,"o":0.045},{"w":0.55,"b":0.1,"o":0.05},{"w":0.56,"b":0.12,"o":0.045},{"w":0.57,"b":0.11,"o":0.05},{"w":0.58,"b":0.14,"o":0.065},{"w":0.59,"b":0.22,"o":0.08},
{"w":0.6,"b":0.3,"o":0.1},{"w":0.61,"b":0.34,"o":0.13},{"w":0.62,"b":0.36,"o":0.16},{"w":0.63,"b":0.41,"o":0.17},{"w":0.64,"b":0.36,"o":0.155},{"w":0.65,"b":0.31,"o":0.17},{"w":0.66,"b":0.33,"o":0.26},{"w":0.67,"b":0.55,"o":0.36},{"w":0.68,"b":0.77,"o":0.33},{"w":0.69,"b":0.785,"o":0.28},
{"w":0.7,"b":0.7,"o":0.245},{"w":0.71,"b":0.72,"o":0.25},{"w":0.72,"b":0.55,"o":0.2},{"w":0.73,"b":0.24,"o":0.12},{"w":0.74,"b":0.3,"o":0.135},{"w":0.75,"b":0.5,"o":0.18},{"w":0.76,"b":0.42,"o":0.19},{"w":0.77,"b":0.43,"o":0.19},{"w":0.78,"b":0.62,"o":0.21},{"w":0.79,"b":0.71,"o":0.25},
{"w":0.8,"b":0.68,"o":0.2},{"w":0.81,"b":0.5,"o":0.11},{"w":0.82,"b":0.38,"o":0.09},{"w":0.83,"b":0.36,"o":0.11},{"w":0.84,"b":0.26,"o":0.06},{"w":0.85,"b":0.45,"o":0.06},{"w":0.86,"b":0.57,"o":0.11},{"w":0.87,"b":0.5,"o":0.13},{"w":0.88,"b":0.53,"o":0.11},{"w":0.89,"b":0.4,"o":0.08},
{"w":0.9,"b":0.25,"o":0.1},{"w":0.91,"b":0.27,"o":0.11},{"w":0.92,"b":0.35,"o":0.1},{"w":0.93,"b":0.3,"o":0.09},{"w":0.94,"b":0.27,"o":0.08},{"w":0.95,"b":0.25,"o":0.08},{"w":0.96,"b":0.44,"o":0.06},{"w":0.97,"b":0.38,"o":0.05},{"w":0.98,"b":0.15,"o":0.025},{"w":0.99,"b":0.14,"o":0.035},
{"w":1.0,"b":0.22,"o":0.06},{"w":1.01,"b":0.26,"o":0.05},{"w":1.02,"b":0.23,"o":0.03},{"w":1.03,"b":0.15,"o":0.02},{"w":1.04,"b":0.13,"o":0.01},{"w":1.05,"b":0.14,"o":0.005},{"w":1.06,"b":0.1,"o":0.012},{"w":1.07,"b":0.17,"o":0.015},{"w":1.08,"b":0.13,"o":0.015},{"w":1.09,"b":0.08,"o":0.018},
{"w":1.1,"b":0.17,"o":0.015},{"w":1.11,"b":0.13,"o":0.02},{"w":1.12,"b":0.07,"o":0.015},{"w":1.13,"b":0.1,"o":0.01},{"w":1.14,"b":0.12,"o":0.012},{"w":1.15,"b":0.14,"o":0.015},{"w":1.16,"b":0.12,"o":0.01},{"w":1.17,"b":0.06,"o":0.012},{"w":1.18,"b":0.05,"o":0.015},{"w":1.19,"b":0.09,"o":0.02},
{"w":1.2,"b":0.07,"o":0.018},{"w":1.21,"b":0.05,"o":0.02},{"w":1.22,"b":0.04,"o":0.025},{"w":1.23,"b":0.05,"o":0.035},{"w":1.24,"b":0.045,"o":0.04},{"w":1.25,"b":0.05,"o":0.03},{"w":1.26,"b":0.04,"o":0.025},{"w":1.27,"b":0.045,"o":0.02},{"w":1.28,"b":0.035,"o":0.025},{"w":1.29,"b":0.045,"o":0.03},
{"w":1.3,"b":0.065,"o":0.03},{"w":1.31,"b":0.05,"o":0.035},{"w":1.32,"b":0.04,"o":0.04},{"w":1.33,"b":0.055,"o":0.045},{"w":1.34,"b":0.06,"o":0.04},{"w":1.35,"b":0.065,"o":0.035},{"w":1.36,"b":0.07,"o":0.03},{"w":1.37,"b":0.06,"o":0.035},{"w":1.38,"b":0.055,"o":0.04},{"w":1.39,"b":0.05,"o":0.035},
{"w":1.4,"b":0.05,"o":0.03},{"w":1.41,"b":0.06,"o":0.025},{"w":1.42,"b":0.085,"o":0.02},{"w":1.43,"b":0.06,"o":0.05},{"w":1.44,"b":0.03,"o":0.04},{"w":1.45,"b":0.02,"o":0.03},{"w":1.46,"b":0.09,"o":0.045},{"w":1.47,"b":0.08,"o":0.05},{"w":1.48,"b":0.06,"o":0.06},{"w":1.49,"b":0.065,"o":0.05},
{"w":1.5,"b":0.065,"o":0.04},{"w":1.51,"b":0.1,"o":0.03},{"w":1.52,"b":0.12,"o":0.035},{"w":1.53,"b":0.07,"o":0.04},{"w":1.54,"b":0.065,"o":0.045},{"w":1.55,"b":0.07,"o":0.05},{"w":1.56,"b":0.07,"o":0.055},{"w":1.57,"b":0.065,"o":0.06},{"w":1.58,"b":0.06,"o":0.05},{"w":1.59,"b":0.12,"o":0.08},
{"w":1.6,"b":0.13,"o":0.04},{"w":1.61,"b":0.15,"o":0.03},{"w":1.62,"b":0.2,"o":0.07},{"w":1.63,"b":0.22,"o":0.065},{"w":1.64,"b":0.14,"o":0.06},{"w":1.65,"b":0.06,"o":0.04},{"w":1.66,"b":0.12,"o":0.075},{"w":1.67,"b":0.15,"o":0.1},{"w":1.68,"b":0.2,"o":0.095},{"w":1.69,"b":0.17,"o":0.1},
{"w":1.7,"b":0.2,"o":0.13},{"w":1.71,"b":0.3,"o":0.18},{"w":1.72,"b":0.6,"o":0.3},{"w":1.725,"b":0.79,"o":0.38},{"w":1.73,"b":0.8,"o":0.42},{"w":1.735,"b":0.6,"o":0.38},{"w":1.74,"b":0.35,"o":0.33},{"w":1.75,"b":0.15,"o":0.25},{"w":1.76,"b":0.14,"o":0.21},{"w":1.77,"b":0.23,"o":0.24},
{"w":1.78,"b":0.3,"o":0.29},{"w":1.79,"b":0.31,"o":0.26},{"w":1.8,"b":0.2,"o":0.18},{"w":1.81,"b":0.12,"o":0.15},{"w":1.82,"b":0.1,"o":0.14},{"w":1.83,"b":0.1,"o":0.12},{"w":1.84,"b":0.1,"o":0.14},{"w":1.85,"b":0.11,"o":0.15},{"w":1.86,"b":0.08,"o":0.11},{"w":1.87,"b":0.07,"o":0.11},
{"w":1.88,"b":0.08,"o":0.12},{"w":1.89,"b":0.07,"o":0.14},{"w":1.9,"b":0.06,"o":0.13},{"w":1.91,"b":0.06,"o":0.09},{"w":1.92,"b":0.05,"o":0.065},{"w":1.93,"b":0.06,"o":0.05},{"w":1.94,"b":0.03,"o":0.06},{"w":1.95,"b":0.055,"o":0.08},{"w":1.96,"b":0.04,"o":0.09},{"w":1.97,"b":0.03,"o":0.06},
{"w":1.98,"b":0.02,"o":0.05},{"w":1.99,"b":0.02,"o":0.055},{"w":2.0,"b":0.015,"o":0.07},{"w":2.02,"b":0.02,"o":0.05},{"w":2.04,"b":0.03,"o":0.09},{"w":2.06,"b":0.025,"o":0.06},{"w":2.08,"b":0.015,"o":0.05},{"w":2.1,"b":0.012,"o":0.065},{"w":2.12,"b":0.01,"o":0.04},{"w":2.14,"b":0.015,"o":0.045},
{"w":2.16,"b":0.012,"o":0.04},{"w":2.18,"b":0.01,"o":0.03},{"w":2.2,"b":0.01,"o":0.055},{"w":2.22,"b":0.008,"o":0.04},{"w":2.24,"b":0.006,"o":0.045},{"w":2.26,"b":0.005,"o":0.05},{"w":2.28,"b":0.005,"o":0.025},{"w":2.3,"b":0.005,"o":0.02},{"w":2.32,"b":0.004,"o":0.025},{"w":2.34,"b":0.003,"o":0.03},
{"w":2.36,"b":0.003,"o":0.02},{"w":2.38,"b":0.003,"o":0.02},{"w":2.4,"b":0.003,"o":0.015},{"w":2.42,"b":0.003,"o":0.018},{"w":2.44,"b":0.003,"o":0.015},{"w":2.46,"b":0.003,"o":0.016},{"w":2.48,"b":0.003,"o":0.012},{"w":2.5,"b":0.003,"o":0.008},{"w":2.52,"b":0.003,"o":0.008},{"w":2.54,"b":0.003,"o":0.01},
{"w":2.56,"b":0.003,"o":0.008},{"w":2.58,"b":0.003,"o":0.015},{"w":2.6,"b":0.003,"o":0.02},{"w":2.62,"b":0.003,"o":0.015},{"w":2.64,"b":0.003,"o":0.018},{"w":2.66,"b":0.003,"o":0.01},{"w":2.68,"b":0.003,"o":0.01},{"w":2.7,"b":0.003,"o":0.008},{"w":2.72,"b":0.003,"o":0.012},{"w":2.74,"b":0.003,"o":0.01},
{"w":2.76,"b":0.003,"o":0.014},{"w":2.78,"b":0.003,"o":0.01},{"w":2.8,"b":0.003,"o":0.012},{"w":2.82,"b":0.003,"o":0.008},{"w":2.84,"b":0.002,"o":0.01},{"w":2.86,"b":0.002,"o":0.008},{"w":2.88,"b":0.002,"o":0.008},{"w":2.9,"b":0.002,"o":0.006},{"w":2.92,"b":0.002,"o":0.008},{"w":2.94,"b":0.002,"o":0.006},
{"w":2.96,"b":0.002,"o":0.004},{"w":2.98,"b":0.002,"o":0.01},{"w":3.0,"b":0.002,"o":0.005}
  ]},
  "layer": [
    {
      "transform": [{"fold": ["b", "o"], "as": ["s", "v"]}],
      "mark": {"type": "line", "strokeWidth": 2, "clip": true},
      "encoding": {
        "x": {"field": "w", "type": "quantitative", "scale": {"domain": [0, 3], "nice": false}, "axis": {"values": [0,0.5,1,1.5,2,2.5,3], "title": "ω (rad/sec)"}},
        "y": {"field": "v", "type": "quantitative", "scale": {"domain": [0, 1], "nice": false}, "axis": {"values": [0,0.2,0.4,0.6,0.8,1], "title": null, "labelPadding": 17}},
        "color": {"field": "s", "type": "nominal", "scale": {"domain": ["b", "o"], "range": ["#ff0000", "#0000ff"]},
          "legend": {"legendX": 638, "legendY": 16, "symbolStrokeWidth": 2, "labelExpr": "datum.label == 'b' ? 'Baseline control' : 'Optimal control'"}}
      }
    },
    {
      "mark": {"type": "point", "opacity": 0, "size": 0},
      "encoding": {
        "x": {"field": "w", "type": "quantitative", "scale": {"domain": [0, 3], "nice": false}, "axis": {"orient": "top", "labels": false, "title": null, "values": [0,0.5,1,1.5,2,2.5,3]}},
        "y": {"field": "b", "type": "quantitative", "scale": {"domain": [0, 1], "nice": false}, "axis": {"orient": "right", "labels": false, "title": null, "values": [0,0.2,0.4,0.6,0.8,1]}}
      }
    }
  ],
  "resolve": {"axis": {"x": "independent", "y": "independent"}}
}
]
}
